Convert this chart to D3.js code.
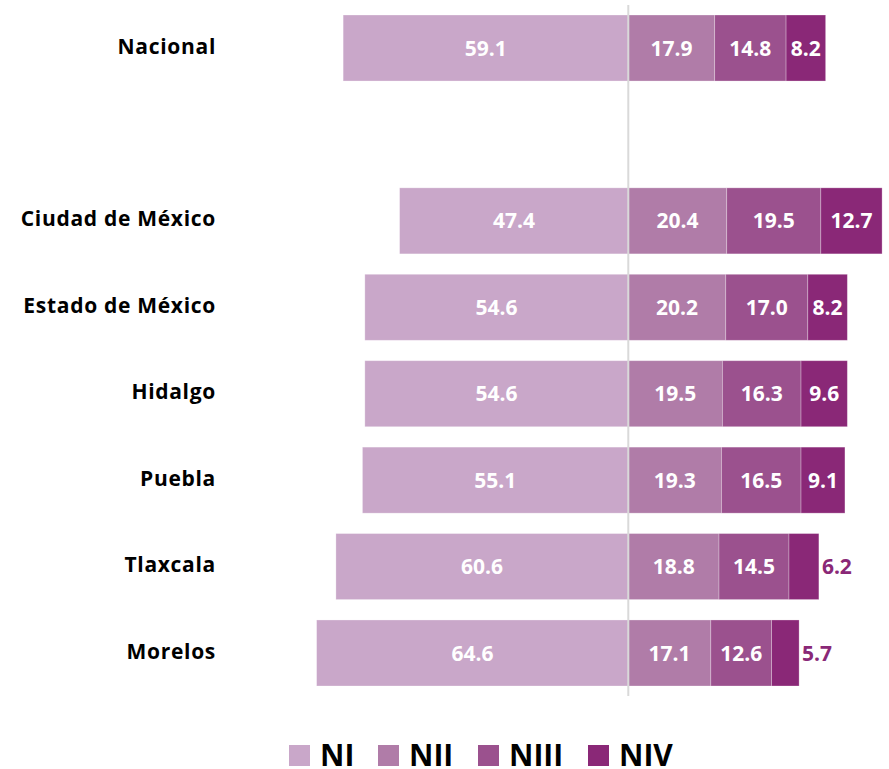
<!DOCTYPE html>
<html>
<head>
<meta charset="utf-8">
<script src="https://cdn.jsdelivr.net/npm/d3@7"></script>
<style>
  html, body { margin: 0; padding: 0; background: #fff; }
  svg { display: block; font-family: "Open Sans", Lato, sans-serif; }
</style>
</head>
<body>
<svg id="chart" width="889" height="769"></svg>
<script>
// Entities (a blank slot separates the national total from the states)
const categories = ["Nacional", "Ciudad de México", "Estado de México", "Hidalgo", "Puebla", "Tlaxcala", "Morelos"];
const slots = ["Nacional", "__gap__", "Ciudad de México", "Estado de México", "Hidalgo", "Puebla", "Tlaxcala", "Morelos"];

// Share of each achievement level (%)
const NI   = [59.1, 47.4, 54.6, 54.6, 55.1, 60.6, 64.6];
const NII  = [17.9, 20.4, 20.2, 19.5, 19.3, 18.8, 17.1];
const NIII = [14.8, 19.5, 17.0, 16.3, 16.5, 14.5, 12.6];
const NIV  = [8.2, 12.7, 8.2, 9.6, 9.1, 6.2, 5.7];

const levels = ["NI", "NII", "NIII", "NIV"];
const colors = ["#c9a7c9", "#b07ca8", "#9b518e", "#8a2877"];

const svg = d3.select("#chart");

const zeroX = 628.3, pxPerUnit = 4.825;
const x = d3.scaleLinear()
  .domain([-65, 55])
  .range([zeroX - 65 * pxPerUnit, zeroX + 55 * pxPerUnit]);

const y = d3.scaleBand()
  .domain(slots)
  .range([15, 686])
  .paddingInner(0.236)
  .paddingOuter(0);

const rows = categories.map((c, i) => ({
  cat: c,
  values: [NI[i], NII[i], NIII[i], NIV[i]]
}));

// Build segments: NI to the left of zero, the rest stacked to the right
const segs = [];
rows.forEach(r => {
  segs.push({ cat: r.cat, level: 0, v: r.values[0], x0: -r.values[0], x1: 0 });
  let acc = 0;
  for (let k = 1; k < 4; k++) {
    segs.push({ cat: r.cat, level: k, v: r.values[k], x0: acc, x1: acc + r.values[k] });
    acc += r.values[k];
  }
});

const g = svg.append("g");

g.selectAll("rect.seg")
  .data(segs)
  .join("rect")
  .attr("class", "seg")
  .attr("x", d => x(d.x0))
  .attr("y", d => y(d.cat))
  .attr("width", d => x(d.x1) - x(d.x0))
  .attr("height", y.bandwidth())
  .attr("fill", d => colors[d.level])
  .attr("stroke", "#ffffff")
  .attr("stroke-opacity", 0.35)
  .attr("stroke-width", 0.8);

// Zero line
svg.append("line")
  .attr("x1", x(0)).attr("x2", x(0))
  .attr("y1", 5).attr("y2", 696)
  .attr("stroke", "#d9d9d9")
  .attr("stroke-width", 2);

// Value labels: inside in white, outside in dark purple when the segment is narrow
const fmt = d3.format(".1f");
g.selectAll("text.val")
  .data(segs)
  .join("text")
  .attr("class", "val")
  .attr("x", d => d.v < 7 ? x(d.x1) + 3 : (x(d.x0) + x(d.x1)) / 2)
  .attr("y", d => y(d.cat) + y.bandwidth() / 2)
  .attr("dy", "0.36em")
  .attr("text-anchor", d => d.v < 7 ? "start" : "middle")
  .attr("fill", d => d.v < 7 ? colors[3] : "#ffffff")
  .attr("font-weight", 700)
  .attr("font-size", 21)
  .text(d => fmt(d.v));

// Category labels
svg.selectAll("text.cat")
  .data(categories)
  .join("text")
  .attr("class", "cat")
  .attr("x", 216)
  .attr("y", d => y(d) + y.bandwidth() / 2 - 2)
  .attr("dy", "0.36em")
  .attr("text-anchor", "end")
  .attr("font-weight", 700)
  .attr("font-size", 21)
  .attr("letter-spacing", 0.7)
  .attr("fill", "#000")
  .text(d => d);

// Legend
const legendX = [289, 378, 478, 588];
const legend = svg.selectAll("g.leg")
  .data(levels)
  .join("g")
  .attr("class", "leg")
  .attr("transform", (d, i) => `translate(${legendX[i]},745)`);
legend.append("rect")
  .attr("width", 21).attr("height", 21)
  .attr("fill", (d, i) => colors[i]);
legend.append("text")
  .attr("x", 31).attr("y", 21)
  .attr("font-weight", 700)
  .attr("font-size", 30)
  .attr("fill", "#000")
  .text(d => d);
</script>
</body>
</html>
